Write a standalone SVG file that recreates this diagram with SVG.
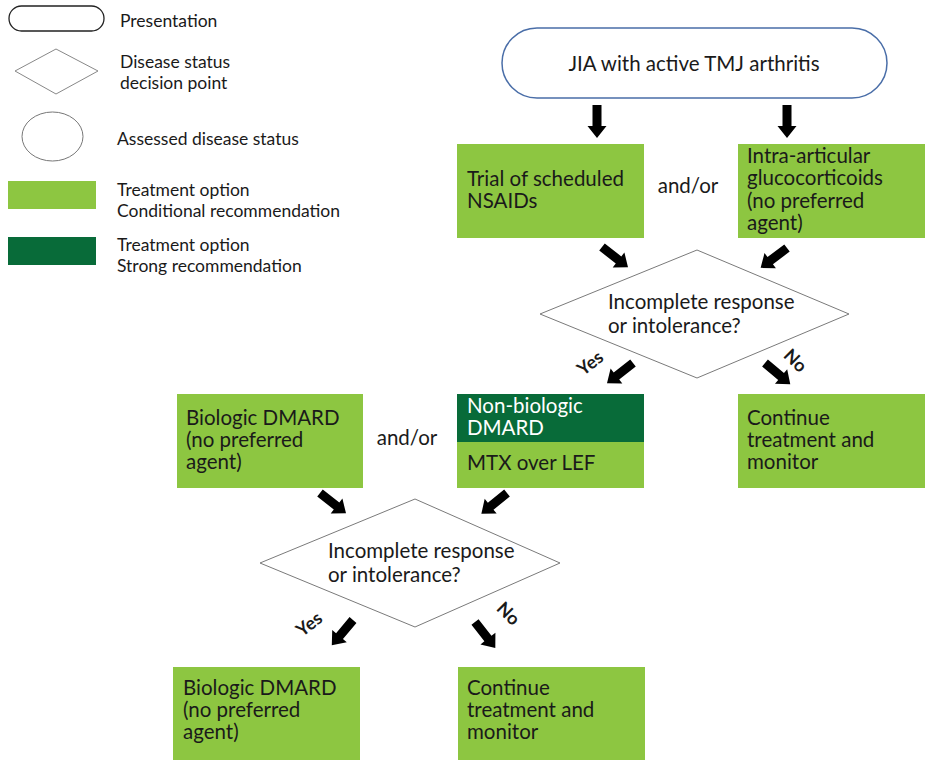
<svg xmlns="http://www.w3.org/2000/svg" xmlns:xlink="http://www.w3.org/1999/xlink" width="927" height="761" viewBox="0 0 927 761">
<style>
text{font-family:Lato,"Open Sans","Liberation Sans",sans-serif;fill:#1a1a1a}
.leg{font-size:17.5px}
.bx{font-size:20.5px}
.lt{fill:#8dc641}
.dk{fill:#086b39}
.dia{fill:#fff;stroke:#7a7a7a;stroke-width:1}
.lab{font-size:18px;font-weight:bold;text-anchor:middle}
.wh{fill:#fff}
</style>
<defs>
<path id="arr" d="M-4.5,0 H4.5 V21 H9.5 L0,33 L-9.5,21 H-4.5 Z" fill="#000"/>
</defs>
<g id="legend">
<rect x="9" y="6" width="95" height="25" rx="12.5" fill="#fff" stroke="#222" stroke-width="1.3"/>
<text class="leg" x="120" y="27">Presentation</text>
<polygon points="15,71 56,49 98,71 56,94" fill="#fff" stroke="#888" stroke-width="1"/>
<text class="leg" x="120" y="68">Disease status</text>
<text class="leg" x="120" y="89">decision point</text>
<ellipse cx="52.5" cy="136.5" rx="30.5" ry="24.5" fill="#fff" stroke="#777" stroke-width="1"/>
<text class="leg" x="117" y="145">Assessed disease status</text>
<rect class="lt" x="8" y="181" width="88" height="28"/>
<text class="leg" x="117" y="196">Treatment option</text>
<text class="leg" x="117" y="217">Conditional recommendation</text>
<rect class="dk" x="8" y="237" width="88" height="28"/>
<text class="leg" x="117" y="251">Treatment option</text>
<text class="leg" x="117" y="272">Strong recommendation</text>
</g>
<g id="start">
<rect x="502" y="28" width="385" height="70" rx="35" fill="#fff" stroke="#4a6ea8" stroke-width="1.5"/>
<text class="bx" x="694" y="71" text-anchor="middle">JIA with active TMJ arthritis</text>
</g>
<g id="nsaids">
<rect class="lt" x="457" y="144" width="187" height="94"/>
<text class="bx" x="467" y="186">Trial of scheduled</text>
<text class="bx" x="467" y="208">NSAIDs</text>
</g>
<text id="andor1" class="bx" x="688" y="193" text-anchor="middle">and/or</text>
<g id="iagc">
<rect class="lt" x="738" y="144" width="187" height="94"/>
<text class="bx" x="747" y="163">Intra-articular</text>
<text class="bx" x="747" y="185">glucocorticoids</text>
<text class="bx" x="747" y="208">(no preferred</text>
<text class="bx" x="747" y="230">agent)</text>
</g>
<g id="decision1">
<polygon class="dia" points="540,314 697,250 849,314 697,378"/>
<text class="bx" x="608" y="309">Incomplete response</text>
<text class="bx" x="608" y="333">or intolerance?</text>
</g>
<g id="nonbio">
<rect class="dk" x="457" y="394" width="187" height="48"/>
<rect class="lt" x="457" y="442" width="187" height="46"/>
<text class="bx wh" x="467" y="413">Non-biologic</text>
<text class="bx wh" x="467" y="435">DMARD</text>
<text class="bx" x="467" y="470">MTX over LEF</text>
</g>
<g id="continue1">
<rect class="lt" x="738" y="394" width="187" height="94"/>
<text class="bx" x="747" y="425">Continue</text>
<text class="bx" x="747" y="447">treatment and</text>
<text class="bx" x="747" y="469">monitor</text>
</g>
<g id="bio1">
<rect class="lt" x="177" y="394" width="186" height="94"/>
<text class="bx" x="186" y="425">Biologic DMARD</text>
<text class="bx" x="186" y="447">(no preferred</text>
<text class="bx" x="186" y="469">agent)</text>
</g>
<text id="andor2" class="bx" x="407" y="445" text-anchor="middle">and/or</text>
<g id="decision2">
<polygon class="dia" points="260,563 415,499 560,563 415,627"/>
<text class="bx" x="328" y="558">Incomplete response</text>
<text class="bx" x="328" y="582">or intolerance?</text>
</g>
<g id="bio2">
<rect class="lt" x="173" y="667" width="187" height="93"/>
<text class="bx" x="183" y="695">Biologic DMARD</text>
<text class="bx" x="183" y="717">(no preferred</text>
<text class="bx" x="183" y="739">agent)</text>
</g>
<g id="continue2">
<rect class="lt" x="458" y="667" width="187" height="93"/>
<text class="bx" x="467" y="695">Continue</text>
<text class="bx" x="467" y="717">treatment and</text>
<text class="bx" x="467" y="739">monitor</text>
</g>
<g id="connectors">
<use xlink:href="#arr" transform="translate(597,105)"/>
<use xlink:href="#arr" transform="translate(787,105)"/>
<use xlink:href="#arr" transform="translate(602,247) rotate(-52)"/>
<use xlink:href="#arr" transform="translate(787,248) rotate(53)"/>
<use xlink:href="#arr" transform="translate(633,363) rotate(52)"/>
<use xlink:href="#arr" transform="translate(765,363) rotate(-50)"/>
<use xlink:href="#arr" transform="translate(320,493) rotate(-52)"/>
<use xlink:href="#arr" transform="translate(507,493) rotate(51)"/>
<use xlink:href="#arr" transform="translate(353,620) rotate(40)"/>
<use xlink:href="#arr" transform="translate(475,622) rotate(-38)"/>
<text class="lab" transform="translate(594,368) rotate(-38)">Yes</text>
<text class="lab" transform="translate(791,365) rotate(45)">No</text>
<text class="lab" transform="translate(313,629) rotate(-38)">Yes</text>
<text class="lab" transform="translate(504,618) rotate(45)">No</text>
</g>
</svg>
